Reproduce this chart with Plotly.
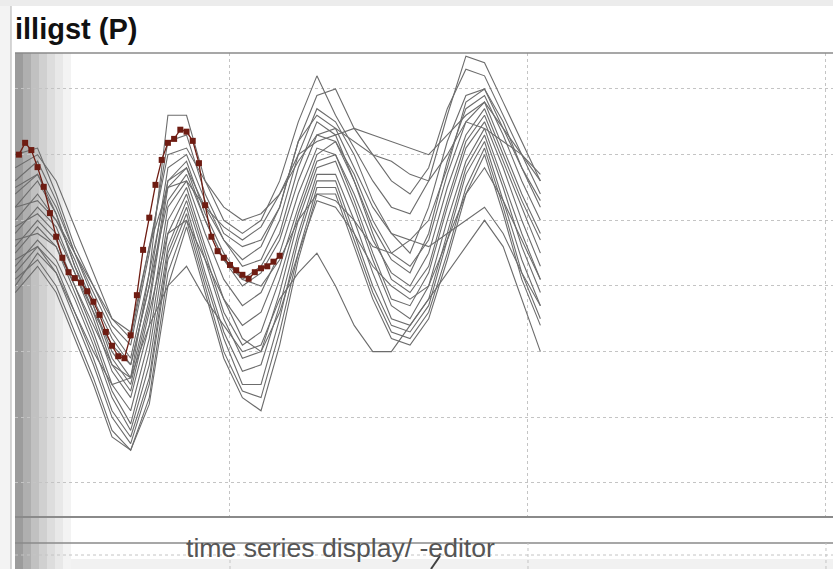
import plotly.graph_objects as go

W, H = 833, 569

# ---------------- data ----------------
hours_grey = [13.4, 17, 20, 23, 26, 29, 32, 35, 38, 41, 44, 47, 50, 53, 56,
              59, 62, 65, 68, 71, 74, 77, 80, 83, 86, 89, 92, 95, 98]

day_01 = [62, 66, 61, 53, 46, 38, 36, 52, 76, 76, 66, 60, 58, 60, 66, 75, 82, 76, 71, 66, 62, 61, 66, 76, 85, 84, 78, 72, 66]
day_02 = [70, 71, 64, 56, 50, 44, 41, 55, 72, 73, 64, 58, 56, 57, 62, 72, 79, 80, 74, 70, 66, 64, 68, 77, 83, 82, 76, 70, 64]
day_03 = [66, 69, 63, 55, 48, 42, 38, 50, 68, 70, 63, 57, 53, 54, 60, 70, 77, 75, 70, 63, 58, 55, 62, 72, 79, 80, 74, 68, 62]
day_04 = [64, 67, 61, 53, 47, 40, 36, 48, 66, 69, 61, 55, 51, 53, 58, 68, 75, 73, 66, 59, 54, 52, 58, 69, 77, 79, 73, 66, 60]
day_05 = [60, 64, 60, 54, 47, 39, 35, 47, 65, 68, 60, 54, 50, 52, 57, 66, 73, 72, 67, 60, 55, 53, 57, 67, 75, 78, 71, 64, 58]
day_06 = [58, 62, 59, 52, 45, 37, 33, 44, 62, 66, 58, 51, 47, 49, 55, 64, 71, 70, 64, 57, 52, 50, 55, 65, 73, 77, 70, 63, 57]
day_07 = [56, 60, 57, 50, 43, 35, 31, 42, 60, 65, 56, 48, 44, 46, 53, 62, 70, 72, 66, 58, 51, 49, 53, 63, 72, 76, 69, 62, 55]
day_08 = [55, 59, 56, 49, 42, 34, 29, 40, 58, 64, 55, 46, 41, 43, 51, 61, 69, 70, 63, 55, 48, 47, 52, 62, 71, 75, 68, 60, 53]
day_09 = [53, 57, 54, 48, 41, 33, 28, 38, 56, 63, 54, 45, 39, 40, 49, 60, 68, 69, 62, 54, 47, 45, 50, 60, 69, 74, 66, 58, 51]
day_10 = [52, 56, 53, 46, 39, 31, 27, 36, 55, 62, 52, 43, 37, 38, 47, 58, 67, 67, 60, 52, 45, 44, 48, 58, 68, 73, 65, 56, 49]
day_11 = [50, 55, 52, 45, 38, 30, 26, 35, 54, 61, 51, 42, 35, 35, 45, 57, 66, 66, 58, 50, 44, 43, 47, 57, 67, 72, 63, 54, 47]
day_12 = [51, 54, 50, 43, 36, 28, 25, 33, 52, 60, 50, 40, 34, 33, 43, 55, 65, 65, 57, 49, 43, 42, 46, 55, 65, 71, 62, 52, 45]
day_13 = [49, 53, 49, 42, 35, 27, 25, 32, 50, 59, 49, 39, 33, 31, 41, 54, 64, 64, 56, 48, 42, 41, 45, 54, 64, 70, 61, 51, 44]
day_14 = [57, 58, 56, 50, 44, 38, 34, 46, 58, 60, 54, 48, 42, 40, 46, 55, 63, 62, 58, 53, 50, 48, 50, 57, 64, 68, 63, 57, 51]
day_15 = [54, 56, 52, 46, 40, 35, 36, 44, 50, 53, 48, 44, 40, 41, 48, 52, 55, 50, 44, 40, 40, 44, 48, 52, 56, 60, 56, 48, 40]
day_16 = [62, 63, 60, 55, 50, 45, 43, 56, 65, 66, 62, 59, 57, 59, 64, 70, 72, 73, 74, 73, 72, 71, 70, 73, 76, 78, 74, 70, 66]
day_17 = [68, 70, 66, 59, 52, 45, 42, 56, 70, 71, 66, 62, 60, 61, 64, 69, 73, 74, 72, 70, 69, 67, 66, 70, 75, 74, 72, 70, 67]
day_18 = [59, 61, 58, 52, 46, 41, 38, 50, 63, 67, 60, 54, 51, 50, 54, 60, 64, 63, 60, 56, 55, 57, 56, 58, 60, 62, 58, 52, 47]
day_19 = [65, 67, 62, 55, 49, 43, 39, 52, 66, 68, 62, 57, 54, 56, 62, 72, 76, 74, 68, 62, 58, 57, 60, 68, 78, 80, 75, 68, 63]

grey_days = [day_01, day_02, day_03, day_04, day_05, day_06, day_07, day_08, day_09, day_10,
             day_11, day_12, day_13, day_14, day_15, day_16, day_17, day_18, day_19]

hours_red = list(range(14, 57))
red_values = [70.0, 71.8, 70.7, 68.1, 65.1, 61.1, 57.5, 54.3, 52.1, 51.2,
              50.5, 49.2, 47.6, 45.6, 43.0, 40.9, 39.3, 39.0, 42.5, 48.6,
              55.5, 60.4, 65.4, 69.2, 71.8, 72.4, 73.8, 73.5, 72.1, 68.7,
              62.3, 57.5, 55.3, 54.3, 53.2, 52.4, 51.7, 51.1, 52.1, 52.7,
              53.0, 53.7, 54.6]

title_text = "illigst (P)"
footer_text = "time series display/ -editor"

# ---------------- helpers ----------------
def px(x):
    return x / W

def py(y):
    return 1 - y / H

GRID = "#c4c4c4"
BORDER = "#8a8a8a"

fig = go.Figure()

for d in grey_days:
    fig.add_trace(go.Scatter(x=hours_grey, y=d, mode="lines",
                             line=dict(color="#6c6c6c", width=1.1),
                             hoverinfo="skip", showlegend=False))

fig.add_trace(go.Scatter(x=hours_red, y=red_values, mode="lines+markers",
                         line=dict(color="#6e1c12", width=1.3),
                         marker=dict(symbol="square", size=6, color="#6e1c12"),
                         showlegend=False))

shapes = []
# window chrome
shapes.append(dict(type="rect", xref="paper", yref="paper", x0=0, x1=1, y0=py(6), y1=1,
                   fillcolor="#ececec", line=dict(width=0), layer="below"))
shapes.append(dict(type="rect", xref="paper", yref="paper", x0=0, x1=px(11), y0=0, y1=py(6),
                   fillcolor="#f3f3f3", line=dict(width=0), layer="below"))
shapes.append(dict(type="line", xref="paper", yref="paper", x0=px(11), x1=px(11), y0=0, y1=py(6),
                   line=dict(color="#b0b0b0", width=1), layer="below"))
# gradient band on the left of the plot
stripe_cols = ["#9c9c9c", "#afafaf", "#c1c1c1", "#d0d0d0", "#dddddd", "#e8e8e8", "#f3f3f3"]
for i, c in enumerate(stripe_cols):
    shapes.append(dict(type="rect", xref="paper", yref="paper",
                       x0=px(15 + 8 * i), x1=px(15 + 8 * (i + 1)), y0=0, y1=py(53),
                       fillcolor=c, line=dict(width=0), layer="below"))
# lower light band
shapes.append(dict(type="rect", xref="paper", yref="paper", x0=px(15 + 56), x1=1, y0=0, y1=py(559),
                   fillcolor="#f1f1f1", line=dict(width=0), layer="below"))
# borders
shapes.append(dict(type="line", xref="paper", yref="paper", x0=px(15), x1=1, y0=py(53), y1=py(53),
                   line=dict(color=BORDER, width=1.5)))
shapes.append(dict(type="line", xref="paper", yref="paper", x0=px(15), x1=1, y0=py(517), y1=py(517),
                   line=dict(color=BORDER, width=2)))
shapes.append(dict(type="line", xref="paper", yref="paper", x0=px(15), x1=1, y0=py(543), y1=py(543),
                   line=dict(color=BORDER, width=1.5)))
shapes.append(dict(type="line", xref="paper", yref="paper", x0=px(15), x1=1, y0=py(555), y1=py(555),
                   line=dict(color=GRID, width=1, dash="3px,3px")))
for h in (48, 96, 144):
    shapes.append(dict(type="line", xref="x", yref="paper", x0=h, x1=h, y0=0, y1=py(543),
                       line=dict(color=GRID, width=1, dash="3px,3px")))
# small pointer stroke near the footer
shapes.append(dict(type="line", xref="paper", yref="paper", x0=px(431), x1=px(440), y0=0, y1=py(556),
                   line=dict(color="#404040", width=2)))

annotations = [
    dict(text="<b>" + title_text + "</b>", xref="paper", yref="paper",
         x=px(13), y=py(29), xanchor="left", yanchor="middle", showarrow=False,
         font=dict(family="Liberation Sans, Arial, sans-serif", size=29, color="#111111")),
    dict(text=footer_text, xref="paper", yref="paper",
         x=px(184), y=py(548), xanchor="left", yanchor="middle", showarrow=False,
         font=dict(family="Liberation Sans, Arial, sans-serif", size=26.6, color="#555555")),
]

fig.update_layout(
    width=W, height=H,
    margin=dict(l=0, r=0, t=0, b=0),
    paper_bgcolor="white",
    plot_bgcolor="rgba(0,0,0,0)",
    showlegend=False,
    shapes=shapes,
    annotations=annotations,
    xaxis=dict(domain=[px(15), 1], range=[13.37, 145.13], tick0=0, dtick=48,
               showgrid=True, gridcolor=GRID, griddash="3px,3px", gridwidth=1,
               showticklabels=False, ticks="", zeroline=False, showline=False),
    yaxis=dict(domain=[py(517), py(53)], range=[14.82, 85.48], tick0=0, dtick=10,
               showgrid=True, gridcolor=GRID, griddash="3px,3px", gridwidth=1,
               showticklabels=False, ticks="", zeroline=False, showline=False),
)

fig.write_html("out.html",
               config={"displayModeBar": False},
               post_script="document.body.style.margin='0';document.body.style.overflow='hidden';")
